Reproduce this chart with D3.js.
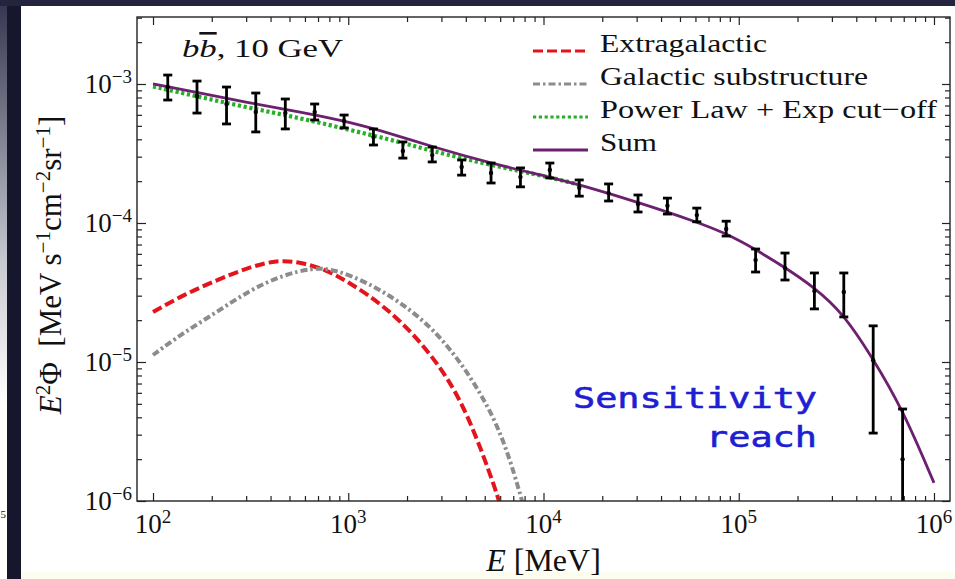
<!DOCTYPE html>
<html>
<head>
<meta charset="utf-8">
<script src="https://cdn.jsdelivr.net/npm/d3@7"></script>
<style>
  html, body { margin: 0; padding: 0; background: #ffffff; }
  svg { display: block; }
  text { font-family: "Liberation Serif", "Times New Roman", serif; fill: #111; }
</style>
</head>
<body>
<svg id="chart" width="955" height="579"></svg>
<script>
// Isotropic gamma-ray background: energy bin centres (MeV) and E^2 Phi with 1-sigma bounds
const binEnergy   = [119, 168, 238, 336, 476, 673, 952, 1346, 1904, 2693, 3809, 5387, 7619,
                     10776, 15241, 21556, 30488, 43121, 60988, 86258, 122000, 172550, 244040,
                     345160, 488180, 690450];
const fluxCentral = [9.51e-4, 8.20e-4, 7.18e-4, 6.29e-4, 6.18e-4, 6.29e-4, 5.42e-4, 4.16e-4,
                     3.30e-4, 3.08e-4, 2.53e-4, 2.29e-4, 2.14e-4, 2.41e-4, 1.79e-4, 1.64e-4,
                     1.37e-4, 1.33e-4, 1.14e-4, 9.05e-5, 5.42e-5, 4.75e-5, 3.24e-5, 3.19e-5,
                     1.03e-5, 2.0e-6];
const fluxLow     = [7.67e-4, 6.18e-4, 5.16e-4, 4.52e-4, 4.75e-4, 5.51e-4, 4.83e-4, 3.64e-4,
                     2.93e-4, 2.75e-4, 2.21e-4, 1.94e-4, 1.82e-4, 2.11e-4, 1.56e-4, 1.44e-4,
                     1.20e-4, 1.16e-4, 1.02e-4, 8.06e-5, 4.44e-5, 3.89e-5, 2.41e-5, 2.11e-5,
                     3.08e-6, 1.0e-7];
const fluxHigh    = [1.16e-3, 1.05e-3, 9.51e-4, 8.61e-4, 7.80e-4, 7.18e-4, 5.98e-4, 4.75e-4,
                     3.83e-4, 3.52e-4, 2.84e-4, 2.70e-4, 2.49e-4, 2.70e-4, 2.04e-4, 1.91e-4,
                     1.59e-4, 1.51e-4, 1.28e-4, 1.03e-4, 6.50e-5, 6.08e-5, 4.37e-5, 4.37e-5,
                     1.82e-5, 4.59e-6];

// Model components (MeV, E^2 Phi)
const sumEnergy = [100, 174, 314, 566, 1021, 1841, 2622, 5321, 10797, 15380, 30120, 61130,
                   85040, 121100, 170500, 242900, 341900, 481500, 685700, 1000000];
const sumFlux   = [1.00e-3, 8.62e-4, 7.30e-4, 6.29e-4, 5.33e-4, 4.20e-4, 3.58e-4, 2.70e-4,
                   2.14e-4, 1.88e-4, 1.42e-4, 1.017e-4, 8.47e-5, 6.50e-5, 4.83e-5, 3.46e-5,
                   2.25e-5, 1.087e-5, 4.67e-6, 1.35e-6];
// power law: visible part, beyond ~10 GeV it runs underneath the sum
const plEnergy  = [100, 174, 314, 566, 1021, 1841, 2622, 5321, 10797, 15380];
const plFlux    = [9.59e-4, 8.06e-4, 6.72e-4, 5.69e-4, 4.67e-4, 3.83e-4, 3.32e-4, 2.62e-4,
                   2.13e-4, 1.88e-4];
const egEnergy  = [100, 142.5, 212.7, 314, 431.7, 566, 778, 1021, 1507, 2250, 3320, 4354, 5778, 6202];
const egFlux    = [2.29e-5, 3.03e-5, 3.89e-5, 4.83e-5, 5.42e-5, 5.24e-5, 4.59e-5, 3.70e-5,
                   2.57e-5, 1.51e-5, 7.42e-6, 3.41e-6, 1.14e-6, 7.93e-7];
const gsEnergy  = [100, 142.5, 212.7, 314, 463.4, 659.7, 835.5, 1247, 1841, 2716, 4057, 5986, 7578, 8135];
const gsFlux    = [1.123e-5, 1.617e-5, 2.29e-5, 3.30e-5, 4.23e-5, 4.75e-5, 4.67e-5, 3.76e-5,
                   2.70e-5, 1.756e-5, 8.76e-6, 3.41e-6, 1.14e-6, 7.93e-7];

const xTickExponents = [2, 3, 4, 5, 6];
const yTickExponents = [-3, -4, -5, -6];
const legendLabels   = ["Extragalactic", "Galactic substructure", "Power Law + Exp cut\u2212off", "Sum"];

const svg = d3.select("#chart");
const W = 955, H = 579;

// ---- slide background around the figure ----
const defs = svg.append("defs");
const grad = defs.append("linearGradient").attr("id", "edgeFade")
  .attr("x1", 0).attr("y1", 0).attr("x2", 0).attr("y2", 1);
grad.append("stop").attr("offset", "0%").attr("stop-color", "#34344f");
grad.append("stop").attr("offset", "45%").attr("stop-color", "#c8c8d0");
grad.append("stop").attr("offset", "70%").attr("stop-color", "#ffffff");
svg.append("rect").attr("x", 0).attr("y", 0).attr("width", W).attr("height", H).attr("fill", "#ffffff");
svg.append("rect").attr("x", 0).attr("y", 0).attr("width", 7).attr("height", H).attr("fill", "url(#edgeFade)");
svg.append("text").attr("x", 0.5).attr("y", 518).attr("font-size", 11).attr("fill", "#555").text("5");
svg.append("rect").attr("x", 21).attr("y", 572).attr("width", W - 21).attr("height", 7).attr("fill", "#fcfcef");
svg.append("rect").attr("x", 7).attr("y", 0).attr("width", 14).attr("height", H).attr("fill", "#16162c");
svg.append("rect").attr("x", 0).attr("y", 0).attr("width", W).attr("height", 6).attr("fill", "#24243e");

// ---- scales ----
const plot = { left: 137, right: 950, top: 17, bottom: 501 };
const x = d3.scaleLog().domain([Math.pow(10, 1.918), Math.pow(10, 6.082)]).range([plot.left, plot.right]);
const y = d3.scaleLog().domain([1e-6, Math.pow(10, -2.518)]).range([plot.bottom, plot.top]);

defs.append("clipPath").attr("id", "plotClip").append("rect")
  .attr("x", plot.left).attr("y", plot.top)
  .attr("width", plot.right - plot.left).attr("height", plot.bottom - plot.top);

// ---- ticks (inward, on all four sides) ----
const xMajor = xTickExponents.map(e => Math.pow(10, e));
const xMinor = [];
for (let e = 2; e < 6; e++) for (let m = 2; m <= 9; m++) xMinor.push(m * Math.pow(10, e));
const yMajor = yTickExponents.map(e => Math.pow(10, e));
const yMinor = [];
for (let e = -6; e < -2; e++) for (let m = 2; m <= 9; m++) {
  const v = m * Math.pow(10, e);
  if (v <= y.domain()[1]) yMinor.push(v);
}

function tickGroup(axis, tx, ty) {
  const g = svg.append("g").attr("transform", `translate(${tx},${ty})`).call(axis);
  g.select(".domain").remove();
  g.selectAll(".tick line").attr("stroke", "#222").attr("stroke-width", 1.2);
  g.selectAll(".tick text").remove();
  return g;
}
tickGroup(d3.axisBottom(x).tickValues(xMajor).tickSize(-8).tickFormat(""), 0, plot.bottom);
tickGroup(d3.axisBottom(x).tickValues(xMinor).tickSize(-5).tickFormat(""), 0, plot.bottom);
tickGroup(d3.axisTop(x).tickValues(xMajor).tickSize(-8).tickFormat(""), 0, plot.top);
tickGroup(d3.axisTop(x).tickValues(xMinor).tickSize(-5).tickFormat(""), 0, plot.top);
tickGroup(d3.axisLeft(y).tickValues(yMajor).tickSize(-9).tickFormat(""), plot.left, 0);
tickGroup(d3.axisLeft(y).tickValues(yMinor).tickSize(-5).tickFormat(""), plot.left, 0);
tickGroup(d3.axisRight(y).tickValues(yMajor).tickSize(-8).tickFormat(""), plot.right, 0);
tickGroup(d3.axisRight(y).tickValues(yMinor).tickSize(-5).tickFormat(""), plot.right, 0);

// ---- tick labels as powers of ten ----
xTickExponents.forEach(e => {
  const t = svg.append("text").attr("x", x(Math.pow(10, e))).attr("y", 533)
    .attr("text-anchor", "middle").attr("font-size", 27);
  t.append("tspan").text("10");
  t.append("tspan").attr("font-size", 19).attr("dy", -10).text(String(e));
});
yTickExponents.forEach(e => {
  const t = svg.append("text").attr("x", 132).attr("y", y(Math.pow(10, e)) + 9)
    .attr("text-anchor", "end").attr("font-size", 27);
  t.append("tspan").text("10");
  t.append("tspan").attr("font-size", 19).attr("dy", -10).text("\u2212" + Math.abs(e));
});

// ---- axis titles ----
const xt = svg.append("text").attr("x", (plot.left + plot.right) / 2).attr("y", 571)
  .attr("text-anchor", "middle").attr("font-size", 32).style("white-space", "pre");
xt.append("tspan").attr("font-style", "italic").text("E");
xt.append("tspan").text(" [MeV]");

const yt = svg.append("text").attr("transform", "translate(61,265) rotate(-90)")
  .attr("text-anchor", "middle").attr("font-size", 31).style("white-space", "pre");
yt.append("tspan").attr("font-style", "italic").text("E");
yt.append("tspan").attr("font-size", 21).attr("dy", -11).text("2");
yt.append("tspan").attr("dy", 11).text("\u03A6  [MeV s");
yt.append("tspan").attr("font-size", 21).attr("dy", -11).text("\u22121");
yt.append("tspan").attr("dy", 11).text("cm");
yt.append("tspan").attr("font-size", 21).attr("dy", -11).text("\u22122");
yt.append("tspan").attr("dy", 11).text("sr");
yt.append("tspan").attr("font-size", 21).attr("dy", -11).text("\u22121");
yt.append("tspan").attr("dy", 11).text("]");

// ---- curves ----
const line = d3.line().x(d => x(d[0])).y(d => y(d[1])).curve(d3.curveBasis);
const curves = svg.append("g").attr("clip-path", "url(#plotClip)");
const zip = (a, b) => a.map((v, i) => [v, b[i]]);

const styles = {
  pl:  { stroke: "#27b027", width: 4.2, dash: "3.2,2.6" },
  eg:  { stroke: "#e3141b", width: 4, dash: "10,4" },
  gs:  { stroke: "#8c8c8c", width: 4, dash: "7,3,2.5,3" },
  sum: { stroke: "#6d2070", width: 2.8, dash: null }
};
function drawCurve(data, s) {
  curves.append("path").datum(data).attr("d", line)
    .attr("fill", "none").attr("stroke", s.stroke).attr("stroke-width", s.width)
    .attr("stroke-dasharray", s.dash).attr("stroke-linejoin", "round");
}
drawCurve(zip(plEnergy, plFlux), styles.pl);
drawCurve(zip(egEnergy, egFlux), styles.eg);
drawCurve(zip(gsEnergy, gsFlux), styles.gs);
drawCurve(zip(sumEnergy, sumFlux), styles.sum);

// ---- data points with error bars ----
const pts = binEnergy.map((e, i) => ({ e, c: fluxCentral[i], lo: fluxLow[i], hi: fluxHigh[i] }));
const bars = svg.append("g").attr("clip-path", "url(#plotClip)");
const capHalf = 4.5;
const pg = bars.selectAll("g.pt").data(pts).join("g").attr("class", "pt");
pg.append("line").attr("x1", d => x(d.e)).attr("x2", d => x(d.e))
  .attr("y1", d => y(d.lo)).attr("y2", d => y(d.hi))
  .attr("stroke", "#000").attr("stroke-width", 2.8);
pg.append("line").attr("x1", d => x(d.e) - capHalf).attr("x2", d => x(d.e) + capHalf)
  .attr("y1", d => y(d.hi)).attr("y2", d => y(d.hi))
  .attr("stroke", "#000").attr("stroke-width", 2.8);
pg.append("line").attr("x1", d => x(d.e) - capHalf).attr("x2", d => x(d.e) + capHalf)
  .attr("y1", d => y(d.lo)).attr("y2", d => y(d.lo))
  .attr("stroke", "#000").attr("stroke-width", 2.8);
pg.append("circle").attr("cx", d => x(d.e)).attr("cy", d => y(d.c)).attr("r", 2.2).attr("fill", "#000");

// ---- frame ----
svg.append("rect").attr("x", plot.left).attr("y", plot.top)
  .attr("width", plot.right - plot.left).attr("height", plot.bottom - plot.top)
  .attr("fill", "none").attr("stroke", "#222").attr("stroke-width", 1.4);

// ---- channel label ----
const ttl = svg.append("text").attr("x", 182).attr("y", 57).attr("font-size", 26)
  .attr("textLength", 161).attr("lengthAdjust", "spacingAndGlyphs").style("white-space", "pre");
ttl.append("tspan").attr("font-style", "italic").text("b");
ttl.append("tspan").attr("font-style", "italic").style("text-decoration", "overline").text("b");
ttl.append("tspan").text(", 10 GeV");

// ---- legend ----
const legendStyles = [styles.eg, styles.gs, styles.pl, styles.sum];
const legendWidths = [167, 268, 337, 57];
const legendBase = [52, 85, 118, 151];
legendLabels.forEach((lab, i) => {
  const s = legendStyles[i];
  svg.append("line").attr("x1", 533).attr("x2", 588)
    .attr("y1", legendBase[i] - 1).attr("y2", legendBase[i] - 1)
    .attr("stroke", s.stroke).attr("stroke-width", Math.min(s.width, 3))
    .attr("stroke-dasharray", s.dash);
  svg.append("text").attr("x", 600).attr("y", legendBase[i]).attr("font-size", 26)
    .attr("textLength", legendWidths[i]).attr("lengthAdjust", "spacingAndGlyphs")
    .text(lab);
});

// ---- annotation ----
const note = svg.append("g");
[["Sensitivity", 408, 244], ["reach", 447, 111]].forEach(([txt, yy, len]) => {
  note.append("text").attr("x", 817).attr("y", yy).attr("text-anchor", "end")
    .attr("font-size", 29).attr("textLength", len).attr("lengthAdjust", "spacingAndGlyphs")
    .style("font-family", "'DejaVu Sans Mono', monospace")
    .style("fill", "#1e1ed2").style("stroke", "#1e1ed2").style("stroke-width", 0.6)
    .text(txt);
});
</script>
</body>
</html>
